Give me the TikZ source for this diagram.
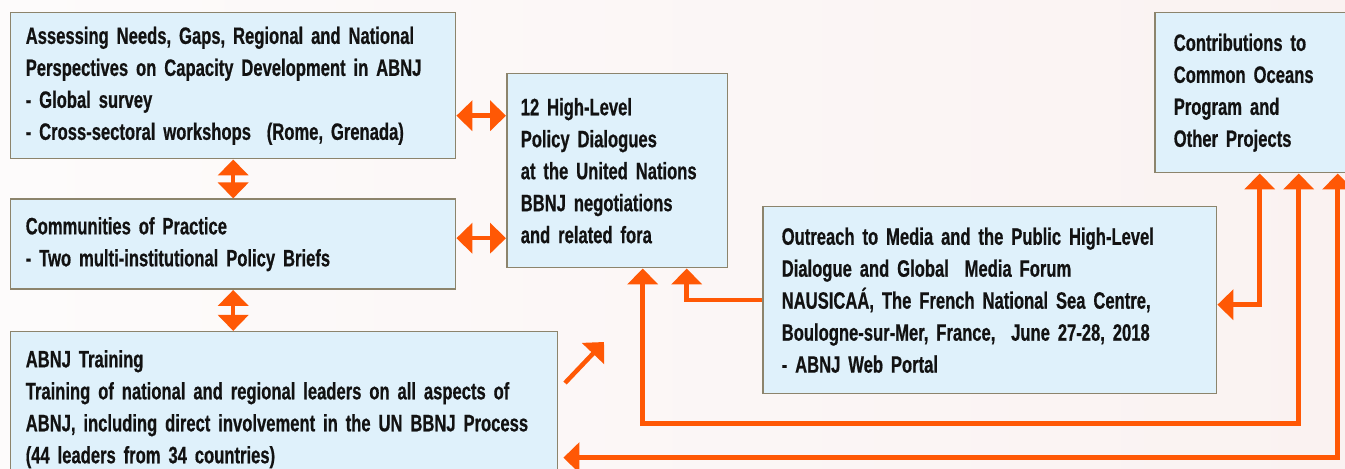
\documentclass[tikz,border=0pt]{standalone}
\usepackage{fontspec}
\setmainfont[FakeStretch=0.70, WordSpace=0.7, BoldFeatures={FakeBold=0.6}]{Liberation Sans}
\usepackage{xcolor}
\usetikzlibrary{
    positioning,
    arrows.meta
}
\definecolor{boxfill}{RGB}{223,241,251}
\definecolor{boxline}{RGB}{140,132,108}
\definecolor{flow}{RGB}{255,88,5}
\definecolor{bgleft}{RGB}{253,251,251}
\definecolor{bgright}{RGB}{250,242,241}
\tikzset{
    infobox/.style={
        rectangle, draw=boxline, line width=0.03cm, fill=boxfill,
        align=left, inner ysep=0pt, text=black!93,
        font=\bfseries\fontsize{13.5}{18.2}\selectfont
    },
    flowarrow/.style={
        -{Triangle[width=0.6cm,length=0.32cm]}, line width=0.09cm, draw=flow
    },
    dblarrow/.style={
        {Triangle[width=0.6cm,length=0.32cm]}-{Triangle[width=0.6cm,length=0.32cm]},
        line width=0.09cm, draw=flow
    }
}

\begin{document}
\begin{tikzpicture}[x=0.02cm, y=-0.02cm, node distance=0.78cm]

        \useasboundingbox (0,0) rectangle (1345,469);
        \clip (0,0) rectangle (1345,469);
        \fill[left color=bgleft, right color=bgright] (0,0) rectangle (1345,469);

        % Left column
        \node[infobox, text width=8.3cm, inner xsep=0.3cm, minimum height=2.92cm, anchor=north west] (assess) at (10,12)
            {Assessing Needs, Gaps, Regional and National\\Perspectives on Capacity Development in ABNJ\\- Global survey\\- Cross-sectoral workshops~ (Rome, Grenada)};
        \node[infobox, text width=8.3cm, inner xsep=0.3cm, minimum height=1.8cm, below=of assess] (practice)
            {Communities of Practice\\- Two multi-institutional Policy Briefs};
        \node[infobox, text width=10.34cm, inner xsep=0.3cm, minimum height=3.1cm, below=0.82cm of practice.south west, anchor=north west] (training)
            {ABNJ Training\\Training of national and regional leaders on all aspects of\\ABNJ, including direct involvement in the UN BBNJ Process\\(44 leaders from 34 countries)};

        % Dialogues, outreach, contributions
        \node[infobox, text width=3.86cm, inner xsep=0.28cm, minimum height=3.88cm, anchor=north west] (dialogue) at (506,73)
            {12 High-Level\\Policy Dialogues\\at the United Nations\\BBNJ negotiations\\and related fora};
        \node[infobox, text width=8.32cm, inner xsep=0.38cm, minimum height=3.74cm, anchor=north west] (outreach) at (762,206)
            {Outreach to Media and the Public High-Level\\Dialogue and Global~ Media Forum\\NAUSICAÁ, The French National Sea Centre,\\Boulogne-sur-Mer, France,~ June 27-28, 2018\\- ABNJ Web Portal};
        \node[infobox, text width=3.56cm, inner xsep=0.38cm, minimum height=3.2cm, anchor=north west] (contrib) at (1154,12)
            {Contributions to\\Common Oceans\\Program and\\Other Projects};

        % Arrows
        \coordinate (diagtail) at (565,383);
        \coordinate (diaghead) at (604,342);

        \draw[dblarrow] (assess) -- (practice);
        \draw[dblarrow] (practice.south) -- (practice.south |- training.north);
        \draw[dblarrow] ([yshift=-0.6cm]assess.east) -- ([yshift=-0.6cm]assess.east -| dialogue.west);
        \draw[dblarrow] ([yshift=0.12cm]practice.east) -- ([yshift=0.12cm]practice.east -| dialogue.west);
        \draw[flowarrow] (diagtail) -- (diaghead);
        \draw[flowarrow] (outreach.west) -| ([xshift=1.39cm]dialogue.south);
        \draw[dblarrow] ([yshift=-0.09cm]outreach.east) -| ([xshift=-0.06cm]contrib.south);
        \draw[dblarrow] ([xshift=0.51cm]dialogue.south) -- ++(0,155) -| ([xshift=0.72cm]contrib.south);
        \draw[dblarrow, shorten <=0.1cm] ([yshift=-0.97cm]training.east) -| ([xshift=1.5cm]contrib.south);

    \end{tikzpicture}
\end{document}
